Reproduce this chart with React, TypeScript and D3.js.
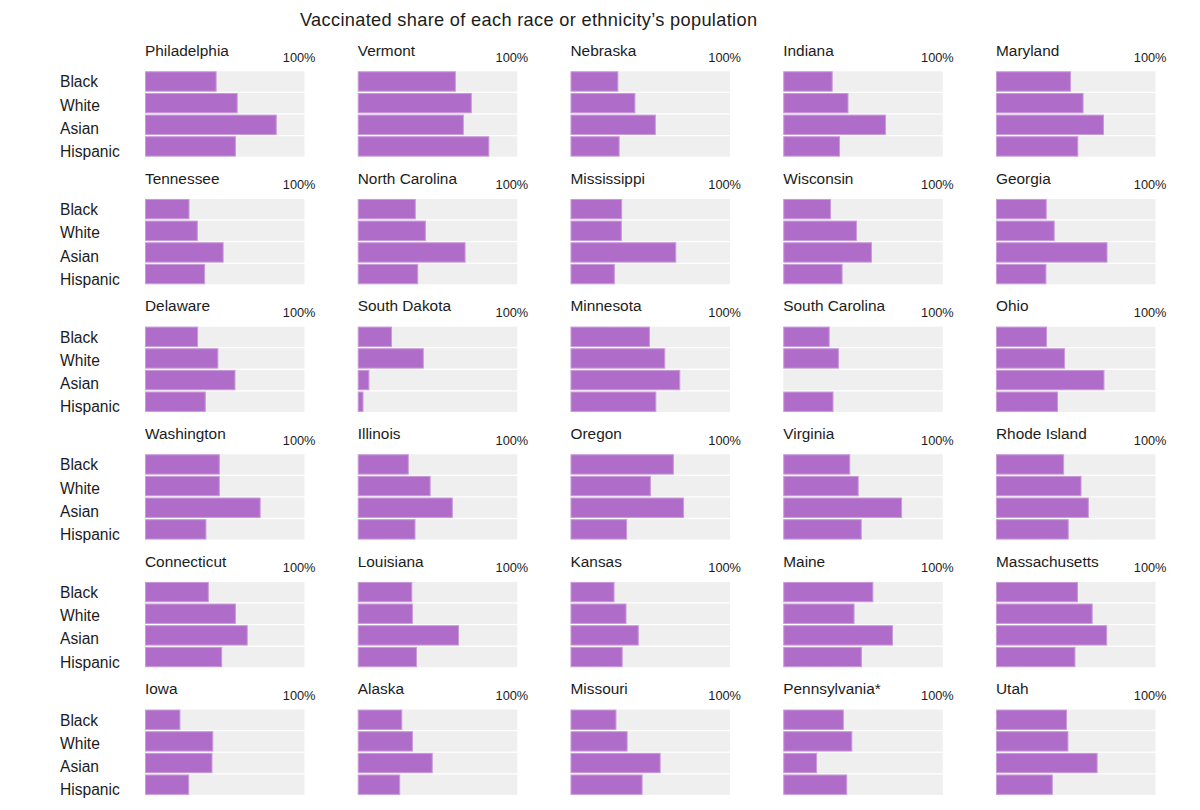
import React from "react";
import * as d3 from "d3";

const races = ["Black", "White", "Asian", "Hispanic"];
const places = [
  "Philadelphia", "Vermont", "Nebraska", "Indiana", "Maryland",
  "Tennessee", "North Carolina", "Mississippi", "Wisconsin", "Georgia",
  "Delaware", "South Dakota", "Minnesota", "South Carolina", "Ohio",
  "Washington", "Illinois", "Oregon", "Virginia", "Rhode Island",
  "Connecticut", "Louisiana", "Kansas", "Maine", "Massachusetts",
  "Iowa", "Alaska", "Missouri", "Pennsylvania*", "Utah",
];
const black = [
  44.9, 61.5, 30, 31, 47,
  27.9, 36.4, 32.4, 29.9, 31.8,
  33.3, 21.5, 49.8, 29.1, 32,
  46.9, 32, 64.8, 42, 42.7,
  40, 34.2, 27.6, 56.5, 51.4,
  22.2, 27.9, 28.8, 38, 44.5,
];
const white = [
  58.1, 71.5, 40.7, 40.9, 54.9,
  33.1, 42.7, 32.2, 46.2, 36.8,
  46, 41.4, 59.4, 34.9, 43.3,
  46.9, 45.7, 50.4, 47.3, 53.6,
  57, 34.6, 35.1, 44.7, 60.6,
  42.8, 34.6, 35.8, 43.3, 45.4,
];
const asian = [
  82.6, 66.5, 53.5, 64.4, 67.7,
  49.3, 67.6, 66.3, 55.6, 69.9,
  56.7, 7.3, 68.8, 0, 68,
  72.5, 59.6, 71.2, 74.5, 58.2,
  64.4, 63.5, 42.8, 68.8, 69.7,
  42.3, 47, 56.5, 21.2, 63.7,
];
const hispanic = [
  57, 82.5, 30.8, 35.6, 51.6,
  37.7, 37.9, 27.8, 37.2, 31.6,
  38.1, 3.6, 53.8, 31.5, 38.9,
  38.5, 36.2, 35.5, 49.2, 45.6,
  48.4, 37.1, 32.7, 49.3, 49.8,
  27.7, 26.6, 45.2, 40.1, 35.6,
];
const titleText = "Vaccinated share of each race or ethnicity\u2019s population";
const maxLabel = "100%";

const FONT = "'Liberation Sans', Arial, Helvetica, sans-serif";
const BAR = "#b06cc9";
const BG = "#efefef";
const TEXT = "#1c1c1c";

export default function App() {
  const nCols = 5;
  const colScale = d3.scaleLinear().domain([0, 1]).range([145, 357.75]);
  const rowScale = d3.scaleLinear().domain([0, 1]).range([71.3, 198.95]);
  const panelW = 159.5;
  const bandH = 85.3;
  const x = d3.scaleLinear().domain([0, 100]).range([0, panelW]);
  const y = d3.scaleBand().domain(races).range([0, bandH]).paddingInner(0.06);
  const labelY = d3.scalePoint().domain(races).range([16, 16 + 3 * 23.3]);
  const series = [black, white, asian, hispanic];

  return (
    <svg
      width={1200}
      height={810}
      style={{ position: "absolute", left: 0, top: 0, background: "#fff" }}
      fontFamily={FONT}
    >
      <text
        x={528.5}
        y={26}
        textAnchor="middle"
        fontSize={18.2}
        fill={TEXT}
        textLength={457}
        lengthAdjust="spacing"
      >
        {titleText}
      </text>
      {places.map((name, i) => {
        const c = i % nCols;
        const r = Math.floor(i / nCols);
        const px = colScale(c);
        const py = rowScale(r);
        return (
          <g key={name} transform={`translate(${px},${py})`}>
            <text x={0} y={-15.3} fontSize={15.4} fill={TEXT}>{name}</text>
            <text x={panelW + 11} y={-9.6} fontSize={12.8} fill={TEXT} textAnchor="end">
              {maxLabel}
            </text>
            {races.map((race, k) => {
              const v = series[k][i];
              return (
                <g key={race}>
                  <rect x={0} y={y(race)} width={x(100)} height={y.bandwidth()} fill={BG} />
                  {v > 0 && (
                    <rect
                      x={0.5}
                      y={(y(race) as number) + 0.5}
                      width={Math.max(0, x(v) - 1)}
                      height={y.bandwidth() - 1}
                      fill={BAR}
                      stroke="#c99ad9"
                      strokeWidth={1}
                    />
                  )}
                </g>
              );
            })}
            {c === 0 &&
              races.map((race) => (
                <text key={race} x={60 - 145} y={labelY(race)} fontSize={15.6} fill={TEXT}>
                  {race}
                </text>
              ))}
          </g>
        );
      })}
    </svg>
  );
}
